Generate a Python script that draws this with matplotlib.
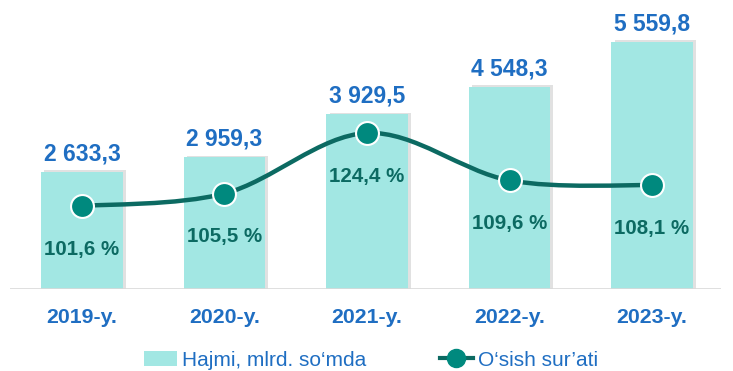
import matplotlib.pyplot as plt
from matplotlib.path import Path
from matplotlib.patches import PathPatch, Patch
from matplotlib.lines import Line2D

plt.rcParams['font.family'] = ['Liberation Sans', 'DejaVu Sans']

years = ['2019-y.', '2020-y.', '2021-y.', '2022-y.', '2023-y.']
volume = [2633.3, 2959.3, 3929.5, 4548.3, 5559.8]
growth = [101.6, 105.5, 124.4, 109.6, 108.1]
volume_labels = ['2 633,3', '2 959,3', '3 929,5', '4 548,3', '5 559,8']
growth_labels = ['101,6 %', '105,5 %', '124,4 %', '109,6 %', '108,1 %']

BAR = '#A2E7E3'
BLUE = '#1F6EC2'
TEAL = '#00897E'
DARK = '#0C6A62'

W, H = 733, 371
fig = plt.figure(figsize=(W / 100, H / 100), dpi=100)
# axes from x=10..721 px, y=10..289 px (from top)
ax = fig.add_axes([10 / W, (H - 289) / H, 711 / W, 279 / H])
ax2 = ax.twinx()
ax.set_zorder(1)
ax2.set_zorder(2)
ax.patch.set_visible(False)
ax2.patch.set_visible(False)

x = list(range(len(years)))
ax.set_xlim(-0.505, 4.484)
ax.set_ylim(0, 279 * 22.5)
ax2.set_ylim(75.66, 162.85)

# soft shadow behind bars
ax.bar([i + 0.022 for i in x], [v + 40 for v in volume], width=0.57,
       color='#8a8a8a', alpha=0.25, zorder=1, linewidth=0)
ax.bar(x, volume, width=0.57, color=BAR, zorder=2, linewidth=0)

for i, v in enumerate(volume):
    ax.annotate(volume_labels[i], (i, v), xytext=(0, 8.5), textcoords='offset points',
                ha='center', va='baseline', color=BLUE, fontsize=16.5, fontweight='bold')

ax.axhline(0, color='#d9d9d9', linewidth=1.2, zorder=3)

# smoothed line (bezier through points)
pts = list(zip(x, growth))
verts = [pts[0]]
codes = [Path.MOVETO]
n = len(pts)
for i in range(n - 1):
    p0 = pts[i - 1] if i > 0 else pts[i]
    p1 = pts[i]
    p2 = pts[i + 1]
    p3 = pts[i + 2] if i + 2 < n else pts[i + 1]
    c1 = (p1[0] + (p2[0] - p0[0]) / 6, p1[1] + (p2[1] - p0[1]) / 6)
    c2 = (p2[0] - (p3[0] - p1[0]) / 6, p2[1] - (p3[1] - p1[1]) / 6)
    verts += [c1, c2, p2]
    codes += [Path.CURVE4] * 3
ax2.add_patch(PathPatch(Path(verts, codes), fill=False, edgecolor=DARK,
                        linewidth=3.2, zorder=3, capstyle='round'))
ax2.plot(x, growth, linestyle='none', marker='o', markersize=16.5,
         markerfacecolor=TEAL, markeredgecolor='white', markeredgewidth=1.5, zorder=4)

for i, g in enumerate(growth):
    ax2.annotate(growth_labels[i], (i, g), xytext=(0, -31), textcoords='offset points',
                 ha='center', va='center', color=DARK, fontsize=14.8, fontweight='bold')

ax.set_xticks(x)
ax.set_xticklabels(years, color=BLUE, fontsize=15.3, fontweight='bold')
ax.tick_params(axis='x', length=0, pad=14)
ax.set_yticks([])
ax2.set_yticks([])
for a in (ax, ax2):
    for s in a.spines.values():
        s.set_visible(False)

handles = [Patch(facecolor=BAR, edgecolor='none'),
           Line2D([0], [0], color=DARK, linewidth=3, marker='o', markersize=13,
                  markerfacecolor=TEAL, markeredgecolor=TEAL)]
fig.legend(handles, ['Hajmi, mlrd. so‘mda', 'O‘sish sur’ati'], loc='center',
           bbox_to_anchor=(371 / W, (H - 360) / H), ncol=2, frameon=False,
           fontsize=15, labelcolor=BLUE, handlelength=1.6, handletextpad=0.25,
           columnspacing=3.5)

fig.savefig('out.png', dpi=100, facecolor='white')
